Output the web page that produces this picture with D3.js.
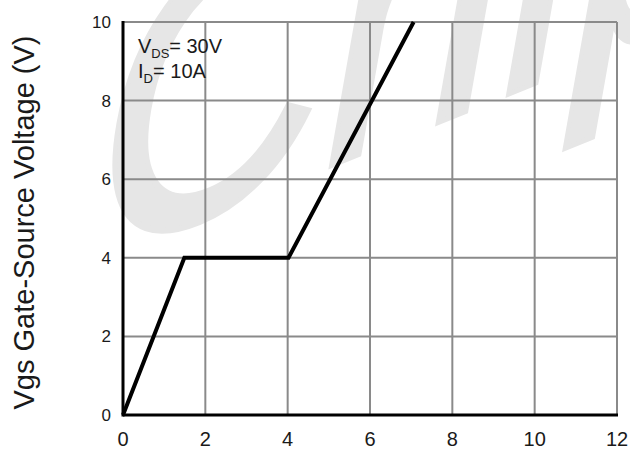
<!DOCTYPE html>
<html lang="en">
<head>
  <meta charset="UTF-8">
  <title>Gate Charge</title>
  <script src="https://d3js.org/d3.v7.min.js"></script>
  <style>
    body { margin: 0; background: #fff; font-family: Arial, "Liberation Sans", sans-serif; }
    .grid line { stroke: #8a8a8a; stroke-width: 2; }
    .tick-y { font-size: 17px; fill: #1a1a1a; }
    .tick-x { font-size: 20px; fill: #1a1a1a; }
  </style>
</head>
<body>
  <div id="chart"></div>
  <script>
    // Gate charge curve (Qg nC vs Vgs V)
    const qg = [0, 1.49, 4.02, 7.06];
    const vgs = [0, 4, 4, 10];
    const xTicks = [0, 2, 4, 6, 8, 10, 12];
    const yTicks = [0, 2, 4, 6, 8, 10];
    const notes = [["V", "DS", "= 30V"], ["I", "D", "= 10A"]];

    const width = 630, height = 449;
    const margin = { top: 22, right: 13, bottom: 34, left: 123 };

    const svg = d3.select("#chart").append("svg")
      .attr("width", width)
      .attr("height", height);

    const x = d3.scaleLinear().domain([0, 12]).range([margin.left, width - margin.right]);
    const y = d3.scaleLinear().domain([0, 10]).range([height - margin.bottom, margin.top]);

    // watermark
    svg.append("text")
      .attr("transform", "translate(78,268) rotate(-22) skewX(-32)")
      .attr("font-size", 345)
      .attr("fill", "#e6e6e6")
      .attr("stroke", "#e6e6e6")
      .attr("stroke-width", 5)
      .text("Chip");

    // grid
    const grid = svg.append("g").attr("class", "grid");
    grid.selectAll(".gx").data(xTicks.slice(1)).enter().append("line")
      .attr("x1", d => x(d)).attr("x2", d => x(d))
      .attr("y1", y(0)).attr("y2", y(10));
    grid.selectAll(".gy").data(yTicks.slice(1)).enter().append("line")
      .attr("x1", x(0)).attr("x2", x(12))
      .attr("y1", d => y(d)).attr("y2", d => y(d));

    // axes lines (thick black left & bottom)
    svg.append("line")
      .attr("x1", x(0)).attr("x2", x(0)).attr("y1", y(0) + 1.5).attr("y2", y(10) - 1)
      .attr("stroke", "#000").attr("stroke-width", 3);
    svg.append("line")
      .attr("x1", x(0)).attr("x2", x(12) + 1).attr("y1", y(0)).attr("y2", y(0))
      .attr("stroke", "#000").attr("stroke-width", 3);

    // tick labels
    svg.selectAll(".tick-y").data(yTicks).enter().append("text")
      .attr("class", "tick-y")
      .attr("x", x(0) - 12)
      .attr("y", d => y(d))
      .attr("dy", "0.35em")
      .attr("text-anchor", "end")
      .text(d => d);
    svg.selectAll(".tick-x").data(xTicks).enter().append("text")
      .attr("class", "tick-x")
      .attr("x", d => x(d))
      .attr("y", y(0) + 31)
      .attr("text-anchor", "middle")
      .text(d => d);

    // axis title
    svg.append("text")
      .attr("transform", `translate(34,${(y(0) + y(10)) / 2 + 4}) rotate(-90)`)
      .attr("text-anchor", "middle")
      .attr("font-size", 29)
      .attr("fill", "#1a1a1a")
      .text("Vgs Gate-Source Voltage (V)");

    // curve
    const line = d3.line().x((d, i) => x(d)).y((d, i) => y(vgs[i]));
    svg.append("path")
      .datum(qg)
      .attr("d", line)
      .attr("fill", "none")
      .attr("stroke", "#000")
      .attr("stroke-width", 4)
      .attr("stroke-linejoin", "miter");

    // conditions note
    const note = svg.append("g");
    notes.forEach((n, i) => {
      const t = note.append("text")
        .attr("x", 138)
        .attr("y", 53 + i * 25)
        .attr("font-size", 20)
        .attr("fill", "#1a1a1a")
        .attr("textLength", i === 0 ? 84 : 68)
        .attr("lengthAdjust", "spacingAndGlyphs");
      t.append("tspan").text(n[0]);
      t.append("tspan").attr("font-size", 13).attr("dy", 5).text(n[1]);
      t.append("tspan").attr("dy", -5).text(n[2]);
    });
  </script>
</body>
</html>
